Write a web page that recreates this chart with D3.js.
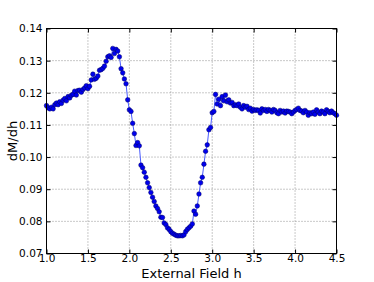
<!DOCTYPE html>
<html>
<head>
<meta charset="utf-8">
<script src="https://cdn.jsdelivr.net/npm/d3@7"></script>
<style>
html,body{margin:0;padding:0;background:#fff;}
svg{display:block;}
text{font-family:"DejaVu Sans",sans-serif;fill:#000;}
</style>
</head>
<body>
<svg id="chart" width="374" height="282"></svg>
<script>
const fieldH = [
1.00,1.02,1.04,1.06,1.08,1.10,1.12,1.14,1.16,1.18,1.20,1.22,1.24,1.26,1.28,1.30,1.32,1.34,1.36,1.38,
1.40,1.42,1.44,1.46,1.48,1.50,1.52,1.54,1.56,1.58,1.60,1.62,1.64,1.66,1.68,1.70,1.72,1.74,1.76,1.78,
1.80,1.82,1.84,1.86,1.88,1.90,1.92,1.94,1.96,1.98,2.00,2.02,2.04,2.06,2.08,2.10,2.12,2.14,2.16,2.18,
2.20,2.22,2.24,2.26,2.28,2.30,2.32,2.34,2.36,2.38,2.40,2.42,2.44,2.46,2.48,2.50,2.52,2.54,2.56,2.58,
2.60,2.62,2.64,2.66,2.68,2.70,2.72,2.74,2.76,2.78,2.80,2.82,2.84,2.86,2.88,2.90,2.92,2.94,2.96,2.98,
3.00,3.02,3.04,3.06,3.08,3.10,3.12,3.14,3.16,3.18,3.20,3.22,3.24,3.26,3.28,3.30,3.32,3.34,3.36,3.38,
3.40,3.42,3.44,3.46,3.48,3.50,3.52,3.54,3.56,3.58,3.60,3.62,3.64,3.66,3.68,3.70,3.72,3.74,3.76,3.78,
3.80,3.82,3.84,3.86,3.88,3.90,3.92,3.94,3.96,3.98,4.00,4.02,4.04,4.06,4.08,4.10,4.12,4.14,4.16,4.18,
4.20,4.22,4.24,4.26,4.28,4.30,4.32,4.34,4.36,4.38,4.40,4.42,4.44,4.46,4.48,4.50
];
const dMdh = [
0.1160,0.1153,0.1150,0.1155,0.1150,0.1163,0.1168,0.1163,0.1172,0.1167,0.1177,0.1182,0.1175,0.1188,0.1184,0.1192,0.1195,0.1205,0.1193,0.1207,
0.1208,0.1202,0.1210,0.1215,0.1222,0.1213,0.1220,0.1240,0.1258,0.1242,0.1245,0.1252,0.1270,0.1272,0.1276,0.1283,0.1298,0.1312,0.1315,0.1310,
0.1338,0.1322,0.1335,0.1330,0.1312,0.1275,0.1262,0.1243,0.1228,0.1178,0.1147,0.1142,0.1105,0.1073,0.1036,0.1045,0.1035,0.0975,0.0967,0.0953,
0.0937,0.0920,0.0905,0.0890,0.0875,0.0862,0.0848,0.0840,0.0830,0.0813,0.0812,0.0795,0.0790,0.0780,0.0775,0.0768,0.0763,0.0760,0.0757,0.0755,
0.0755,0.0756,0.0755,0.0758,0.0768,0.0775,0.0780,0.0785,0.0792,0.0832,0.0822,0.0848,0.0885,0.0920,0.0937,0.0978,0.1018,0.1038,0.1085,0.1092,
0.1138,0.1142,0.1195,0.1165,0.1180,0.1160,0.1188,0.1175,0.1193,0.1172,0.1178,0.1168,0.1170,0.1160,0.1163,0.1160,0.1165,0.1155,0.1150,0.1160,
0.1155,0.1158,0.1148,0.1152,0.1143,0.1148,0.1145,0.1147,0.1145,0.1137,0.1150,0.1145,0.1148,0.1142,0.1148,0.1145,0.1140,0.1148,0.1145,0.1138,
0.1135,0.1145,0.1140,0.1143,0.1137,0.1143,0.1142,0.1140,0.1135,0.1140,0.1145,0.1148,0.1152,0.1145,0.1143,0.1138,0.1145,0.1140,0.1130,0.1138,
0.1135,0.1140,0.1133,0.1147,0.1140,0.1135,0.1143,0.1140,0.1135,0.1147,0.1142,0.1138,0.1143,0.1138,0.1135,0.1130
];
const xTicks = [1.0,1.5,2.0,2.5,3.0,3.5,4.0,4.5];
const yTicks = [0.07,0.08,0.09,0.10,0.11,0.12,0.13,0.14];
const xLabel = "External Field h";
const yLabel = "dM/dh";

const L = 46.5, R = 336.5, T = 28.5, B = 253.5;
const svg = d3.select("#chart");
const x = d3.scaleLinear().domain([1.0, 4.5]).range([L, R]);
const y = d3.scaleLinear().domain([0.07, 0.14]).range([B, T]);

// grid
const grid = svg.append("g");
grid.selectAll("line.gx").data(xTicks).enter().append("line")
  .attr("x1", d => x(d)).attr("x2", d => x(d)).attr("y1", T).attr("y2", B)
  .attr("stroke", "#777").attr("stroke-width", 0.8).attr("stroke-dasharray", "1,2");
grid.selectAll("line.gy").data(yTicks).enter().append("line")
  .attr("y1", d => y(d)).attr("y2", d => y(d)).attr("x1", L).attr("x2", R)
  .attr("stroke", "#777").attr("stroke-width", 0.8).attr("stroke-dasharray", "1,2");

const data = fieldH.map((h, i) => [h, dMdh[i]]);

svg.append("path").datum(data)
  .attr("fill", "none").attr("stroke", "#4a5cff").attr("stroke-width", 1)
  .attr("d", d3.line().x(d => x(d[0])).y(d => y(d[1])));

svg.append("g").selectAll("circle").data(data).enter().append("circle")
  .attr("cx", d => x(d[0])).attr("cy", d => y(d[1])).attr("r", 2.3)
  .attr("fill", "#0000ee").attr("stroke", "#000066").attr("stroke-width", 0.5);

// axes (inward ticks on all sides)
const axB = d3.axisBottom(x).tickValues(xTicks).tickFormat(d3.format(".1f")).tickSizeInner(-4).tickSizeOuter(0).tickPadding(1.5);
const axT = d3.axisTop(x).tickValues(xTicks).tickFormat("").tickSizeInner(-4).tickSizeOuter(0);
const axL = d3.axisLeft(y).tickValues(yTicks).tickFormat(d3.format(".2f")).tickSizeInner(-4).tickSizeOuter(0).tickPadding(4);
const axRt = d3.axisRight(y).tickValues(yTicks).tickFormat("").tickSizeInner(-4).tickSizeOuter(0);

function style(g){
  g.select(".domain").remove();
  g.selectAll("text").style("font-family", "'DejaVu Sans', sans-serif").style("font-size", "10.5px").attr("fill", "#000");
  g.selectAll("line").attr("stroke", "#000");
}
svg.append("g").attr("transform", `translate(0,${B})`).call(axB).call(style);
svg.append("g").attr("transform", `translate(0,${T})`).call(axT).call(style);
svg.append("g").attr("transform", `translate(${L},0)`).call(axL).call(style);
svg.append("g").attr("transform", `translate(${R},0)`).call(axRt).call(style);

svg.append("rect").attr("x", L).attr("y", T).attr("width", R - L).attr("height", B - T)
  .attr("fill", "none").attr("stroke", "#000").attr("stroke-width", 1);

svg.append("text").attr("x", (L + R) / 2).attr("y", 277.5).attr("text-anchor", "middle")
  .style("font-size", "13px").text(xLabel);
svg.append("text").attr("transform", `translate(17,${(T + B) / 2}) rotate(-90)`).attr("text-anchor", "middle")
  .style("font-size", "13px").text(yLabel);
</script>
</body>
</html>
